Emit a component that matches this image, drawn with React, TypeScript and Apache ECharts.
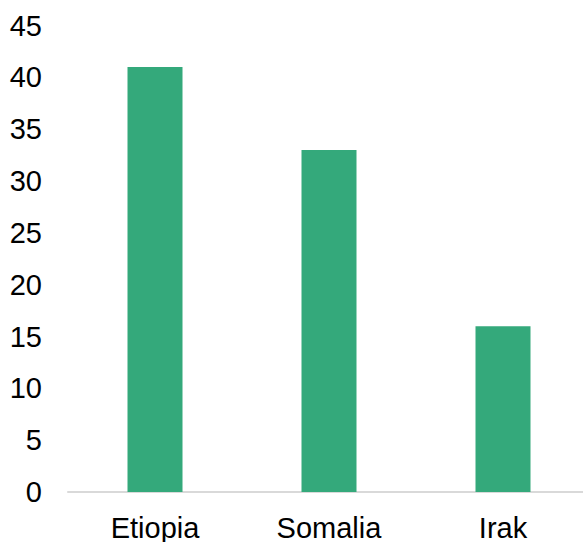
import React, { useEffect, useRef } from "react";
import * as echarts from "echarts";

const categories = ["Etiopia", "Somalia", "Irak"];
const values = [41, 33, 16];
const yTicks = { min: 0, max: 45, interval: 5 };

export default function App() {
  const ref = useRef<HTMLDivElement>(null);
  useEffect(() => {
    if (!ref.current) return;
    const chart = echarts.init(ref.current, undefined, { renderer: "svg" });
    chart.setOption({
      animation: false,
      backgroundColor: "#ffffff",
      grid: { left: 68, right: 0, top: 25.5, bottom: 47, containLabel: false },
      xAxis: {
        type: "category",
        data: categories,
        axisLine: { show: true, lineStyle: { color: "#D9D9D9", width: 2 } },
        axisTick: { show: false },
        axisLabel: {
          color: "#000000",
          fontSize: 29,
          fontFamily: "Liberation Sans, Arial, sans-serif",
          margin: 21,
        },
      },
      yAxis: {
        type: "value",
        min: yTicks.min,
        max: yTicks.max,
        interval: yTicks.interval,
        axisLine: { show: false },
        axisTick: { show: false },
        splitLine: { show: false },
        axisLabel: {
          color: "#000000",
          fontSize: 29,
          fontFamily: "Liberation Sans, Arial, sans-serif",
          margin: 26,
        },
      },
      series: [
        {
          type: "bar",
          data: values,
          barWidth: 55,
          itemStyle: { color: "#34A97B" },
        },
      ],
    });
    return () => chart.dispose();
  }, []);
  return (
    <div
      ref={ref}
      style={{ position: "fixed", left: 0, top: 0, width: 590, height: 542 }}
    />
  );
}
